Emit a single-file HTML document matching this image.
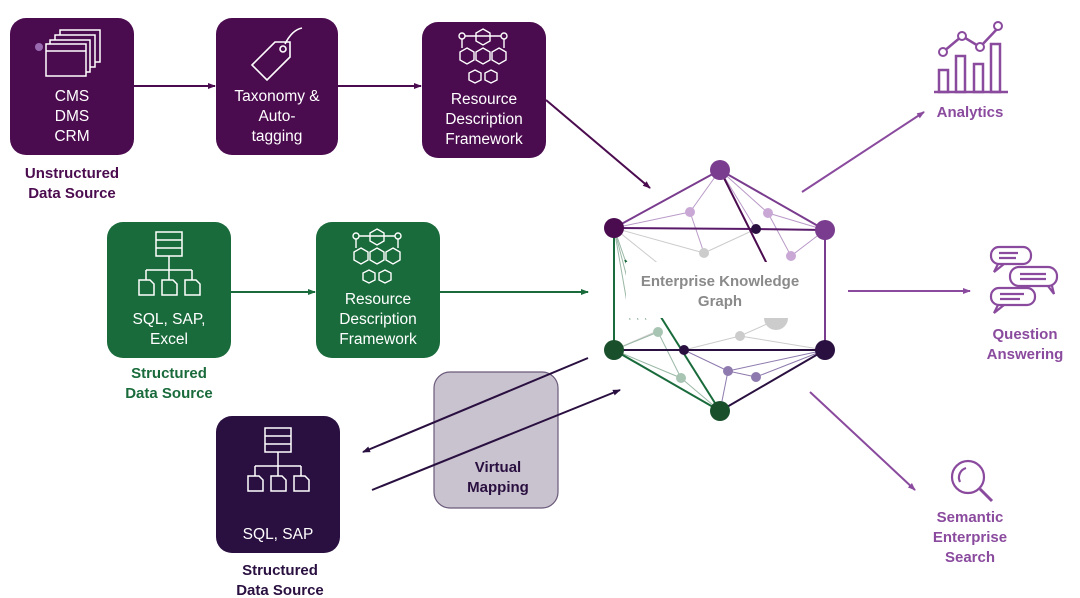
<!DOCTYPE html>
<html><head><meta charset="utf-8"><style>
html,body{margin:0;padding:0;background:#fff;}
svg{display:block;font-family:"Liberation Sans",Arial,sans-serif;}
</style></head><body>
<svg width="1080" height="598" viewBox="0 0 1080 598" xmlns="http://www.w3.org/2000/svg">
<defs>
<marker id="ap" markerWidth="8" markerHeight="8" refX="7" refY="4" orient="auto" markerUnits="userSpaceOnUse"><path d="M0,1 L8,4 L0,7 z" fill="#4b0b4f"/></marker>
<marker id="ag" markerWidth="8" markerHeight="8" refX="7" refY="4" orient="auto" markerUnits="userSpaceOnUse"><path d="M0,1 L8,4 L0,7 z" fill="#1a6b3c"/></marker>
<marker id="ad" markerWidth="8" markerHeight="8" refX="7" refY="4" orient="auto" markerUnits="userSpaceOnUse"><path d="M0,1 L8,4 L0,7 z" fill="#2a1040"/></marker>
<marker id="al" markerWidth="8" markerHeight="8" refX="7" refY="4" orient="auto" markerUnits="userSpaceOnUse"><path d="M0,1 L8,4 L0,7 z" fill="#8a4a9e"/></marker>
</defs>

<rect x="10" y="18" width="124" height="137" rx="16" fill="#4b0b4f"/>
<rect x="216" y="18" width="122" height="137" rx="16" fill="#4b0b4f"/>
<rect x="422" y="22" width="124" height="136" rx="16" fill="#4b0b4f"/>
<g fill="none" stroke="#fff" stroke-width="1.5">
<rect x="60" y="30" width="40" height="32"/><rect x="55" y="35" width="40" height="32" fill="#4b0b4f"/><rect x="50" y="40" width="40" height="32" fill="#4b0b4f"/><rect x="46" y="44" width="40" height="32" fill="#4b0b4f"/><line x1="46" y1="51" x2="86" y2="51"/>
</g>
<circle cx="39" cy="47" r="4" fill="#9a6ab0"/>
<g fill="none" stroke="#fff" stroke-width="1.6"><path d="M252,65 L275,42 L290,42 L290,57 L267,80 Z"/><circle cx="283" cy="49" r="3"/><path d="M285,44 Q292,30 302,28"/></g>
<g fill="none" stroke="#fff" stroke-width="1.4" id="rdf">
<circle cx="462" cy="36" r="3"/><circle cx="504" cy="36" r="3"/><line x1="465" y1="36" x2="501" y2="36"/>
<polygon points="483,29 490,33 490,41 483,45 476,41 476,33"/>
<polygon points="467,48 474,52 474,60 467,64 460,60 460,52"/><polygon points="483,48 490,52 490,60 483,64 476,60 476,52"/><polygon points="499,48 506,52 506,60 499,64 492,60 492,52"/>
<polygon points="475,70 481,73 481,80 475,83 469,80 469,73"/><polygon points="491,70 497,73 497,80 491,83 485,80 485,73"/>
<line x1="462" y1="39" x2="462" y2="48"/><line x1="504" y1="39" x2="504" y2="48"/>
</g>
<g fill="#fff" font-size="15.5" text-anchor="middle">
<text x="72" y="101">CMS</text><text x="72" y="121">DMS</text><text x="72" y="141">CRM</text>
<text x="277" y="101">Taxonomy &amp;</text><text x="277" y="121">Auto-</text><text x="277" y="141">tagging</text>
<text x="484" y="104">Resource</text><text x="484" y="124">Description</text><text x="484" y="144">Framework</text>
</g>
<g fill="#4b0b4f" font-size="15" font-weight="bold" text-anchor="middle">
<text x="72" y="178">Unstructured</text><text x="72" y="198">Data Source</text>
</g>
<line x1="134" y1="86" x2="215" y2="86" stroke="#4b0b4f" stroke-width="2" marker-end="url(#ap)"/>
<line x1="338" y1="86" x2="421" y2="86" stroke="#4b0b4f" stroke-width="2" marker-end="url(#ap)"/>
<line x1="546" y1="100" x2="650" y2="188" stroke="#4b0b4f" stroke-width="2" marker-end="url(#ap)"/>

<rect x="107" y="222" width="124" height="136" rx="16" fill="#1a6b3c"/>
<rect x="316" y="222" width="124" height="136" rx="16" fill="#1a6b3c"/>
<g fill="none" stroke="#fff" stroke-width="1.5" id="db">
<rect x="156" y="232" width="26" height="24"/><line x1="156" y1="240" x2="182" y2="240"/><line x1="156" y1="248" x2="182" y2="248"/>
<line x1="169" y1="256" x2="169" y2="270"/><line x1="146" y1="270" x2="192" y2="270"/>
<line x1="146" y1="270" x2="146" y2="280"/><line x1="169" y1="270" x2="169" y2="280"/><line x1="192" y1="270" x2="192" y2="280"/>
<path d="M139,280 h11 l4,4 v11 h-15 z"/><path d="M162,280 h11 l4,4 v11 h-15 z"/><path d="M185,280 h11 l4,4 v11 h-15 z"/>
</g>
<use href="#rdf" transform="translate(-106,200)"/>
<g fill="#fff" font-size="15.5" text-anchor="middle">
<text x="169" y="324">SQL, SAP,</text><text x="169" y="344">Excel</text>
<text x="378" y="304">Resource</text><text x="378" y="324">Description</text><text x="378" y="344">Framework</text>
</g>
<g fill="#1a6b3c" font-size="15" font-weight="bold" text-anchor="middle">
<text x="169" y="378">Structured</text><text x="169" y="398">Data Source</text>
</g>
<line x1="231" y1="292" x2="315" y2="292" stroke="#1a6b3c" stroke-width="2" marker-end="url(#ag)"/>
<line x1="440" y1="292" x2="588" y2="292" stroke="#1a6b3c" stroke-width="2" marker-end="url(#ag)"/>

<rect x="216" y="416" width="124" height="137" rx="16" fill="#2a1040"/>
<use href="#db" transform="translate(109,196)"/>
<text x="278" y="539" fill="#fff" font-size="15.5" text-anchor="middle">SQL, SAP</text>
<g fill="#2a1040" font-size="15" font-weight="bold" text-anchor="middle">
<text x="280" y="575">Structured</text><text x="280" y="595">Data Source</text>
</g>
<rect x="434" y="372" width="124" height="136" rx="16" fill="#c9c3cf" stroke="#6a5a7a" stroke-width="1.2"/>
<g fill="#2a1040" font-size="15" font-weight="bold" text-anchor="middle">
<text x="498" y="472">Virtual</text><text x="498" y="492">Mapping</text>
</g>
<line x1="588" y1="358" x2="363" y2="452" stroke="#2a1040" stroke-width="2" marker-end="url(#ad)"/>
<line x1="372" y1="490" x2="620" y2="390" stroke="#2a1040" stroke-width="2" marker-end="url(#ad)"/>

<g stroke-width="1">
<g stroke="#b99ac8"><line x1="614" y1="228" x2="690" y2="212"/><line x1="690" y1="212" x2="720" y2="170"/><line x1="690" y1="212" x2="704" y2="253"/><line x1="768" y1="213" x2="720" y2="170"/><line x1="768" y1="213" x2="791" y2="256"/><line x1="768" y1="213" x2="825" y2="230"/><line x1="791" y1="256" x2="825" y2="230"/><line x1="720" y1="170" x2="825" y2="230"/><line x1="720" y1="170" x2="756" y2="229"/></g>
<g stroke="#ccc"><line x1="614" y1="228" x2="704" y2="253"/><line x1="704" y1="253" x2="756" y2="229"/><line x1="655" y1="332" x2="614" y2="350"/><line x1="740" y1="336" x2="825" y2="350"/><line x1="740" y1="336" x2="684" y2="350"/><line x1="740" y1="336" x2="776" y2="320"/><line x1="614" y1="228" x2="660" y2="265"/></g>
<g stroke="#9ab8a5"><line x1="614" y1="228" x2="630" y2="320"/><line x1="614" y1="228" x2="638" y2="320"/><line x1="614" y1="228" x2="646" y2="320"/><line x1="614" y1="350" x2="658" y2="332"/><line x1="658" y1="332" x2="681" y2="378"/><line x1="681" y1="378" x2="720" y2="411"/><line x1="614" y1="350" x2="681" y2="378"/></g>
<g stroke="#8e7aae"><line x1="684" y1="350" x2="728" y2="371"/><line x1="728" y1="371" x2="720" y2="411"/><line x1="728" y1="371" x2="756" y2="377"/><line x1="756" y1="377" x2="825" y2="350"/><line x1="728" y1="371" x2="825" y2="350"/><line x1="720" y1="411" x2="825" y2="350"/></g>
</g>
<g stroke-width="2" fill="none">
<path d="M614,228 L720,170 L825,230 L825,350" stroke="#7a3c8e"/>
<path d="M614,228 L756,229 L825,230" stroke="#5a1a6a"/>
<line x1="720" y1="170" x2="790" y2="310" stroke="#4b0b4f"/>
<path d="M614,228 L614,350 L720,411" stroke="#1a6b3c"/>
<line x1="625" y1="260" x2="720" y2="411" stroke="#1a6b3c"/>
<path d="M614,350 L825,350 L720,411" stroke="#2a1040"/>
</g>
<rect x="626" y="262" width="188" height="56" fill="#fff"/>
<path d="M764,318 a12,12 0 0 0 24,0 z" fill="#ccc"/>
<g fill="#8a8a8a" font-size="15" font-weight="bold" text-anchor="middle">
<text x="720" y="286">Enterprise Knowledge</text><text x="720" y="306">Graph</text>
</g>
<circle cx="720" cy="170" r="10" fill="#7a3c8e"/>
<circle cx="614" cy="228" r="10" fill="#4b0b4f"/>
<circle cx="825" cy="230" r="10" fill="#7a3c8e"/>
<circle cx="614" cy="350" r="10" fill="#1a4f2c"/>
<circle cx="825" cy="350" r="10" fill="#2a1040"/>
<circle cx="720" cy="411" r="10" fill="#1a4f2c"/>
<circle cx="756" cy="229" r="5" fill="#2a1040"/><circle cx="684" cy="350" r="5" fill="#2a1040"/>
<circle cx="690" cy="212" r="5" fill="#c9a8d6"/><circle cx="768" cy="213" r="5" fill="#c9a8d6"/><circle cx="791" cy="256" r="5" fill="#c9a8d6"/>
<circle cx="704" cy="253" r="5" fill="#ccc"/><circle cx="740" cy="336" r="5" fill="#ccc"/>
<circle cx="658" cy="332" r="5" fill="#a8c4b2"/><circle cx="681" cy="378" r="5" fill="#a8c4b2"/>
<circle cx="728" cy="371" r="5" fill="#8e7aae"/><circle cx="756" cy="377" r="5" fill="#8e7aae"/>

<line x1="802" y1="192" x2="924" y2="112" stroke="#8a4a9e" stroke-width="2" marker-end="url(#al)"/>
<line x1="848" y1="291" x2="970" y2="291" stroke="#8a4a9e" stroke-width="2" marker-end="url(#al)"/>
<line x1="810" y1="392" x2="915" y2="490" stroke="#8a4a9e" stroke-width="2" marker-end="url(#al)"/>
<g fill="none" stroke="#8a4a9e" stroke-width="2.5">
<line x1="934" y1="92" x2="1008" y2="92"/>
<rect x="939" y="70" width="9" height="22"/><rect x="956" y="56" width="9" height="36"/><rect x="974" y="64" width="9" height="28"/><rect x="991" y="44" width="9" height="48"/>
<polyline points="943,52 962,36 980,47 998,28"/>
</g>
<g fill="#fff" stroke="#8a4a9e" stroke-width="2"><circle cx="943" cy="52" r="4"/><circle cx="962" cy="36" r="4"/><circle cx="980" cy="47" r="4"/><circle cx="998" cy="26" r="4"/></g>
<g fill="none" stroke="#8a4a9e" stroke-width="2.2">
<rect x="991" y="247" width="40" height="17" rx="8"/><path d="M998,264 l-4,8 l10,-8"/><line x1="999" y1="253" x2="1018" y2="253"/><line x1="999" y1="258" x2="1016" y2="258"/>
<rect x="1010" y="267" width="47" height="19" rx="9"/><path d="M1048,286 l6,8 l-2,-8"/><line x1="1020" y1="274" x2="1046" y2="274"/><line x1="1020" y1="279" x2="1046" y2="279"/>
<rect x="991" y="288" width="44" height="17" rx="8"/><path d="M998,305 l-4,8 l10,-8"/><line x1="1000" y1="294" x2="1024" y2="294"/><line x1="1000" y1="299" x2="1020" y2="299"/>
<circle cx="968" cy="477" r="16"/><line x1="980" y1="489" x2="992" y2="501" stroke-width="3"/><path d="M960,482 a10,10 0 0 1 6,-14"/>
</g>
<g fill="#8a4a9e" font-size="15" font-weight="bold" text-anchor="middle">
<text x="970" y="117">Analytics</text>
<text x="1025" y="339">Question</text><text x="1025" y="359">Answering</text>
<text x="970" y="522">Semantic</text><text x="970" y="542">Enterprise</text><text x="970" y="562">Search</text>
</g>
</svg>
</body></html>
